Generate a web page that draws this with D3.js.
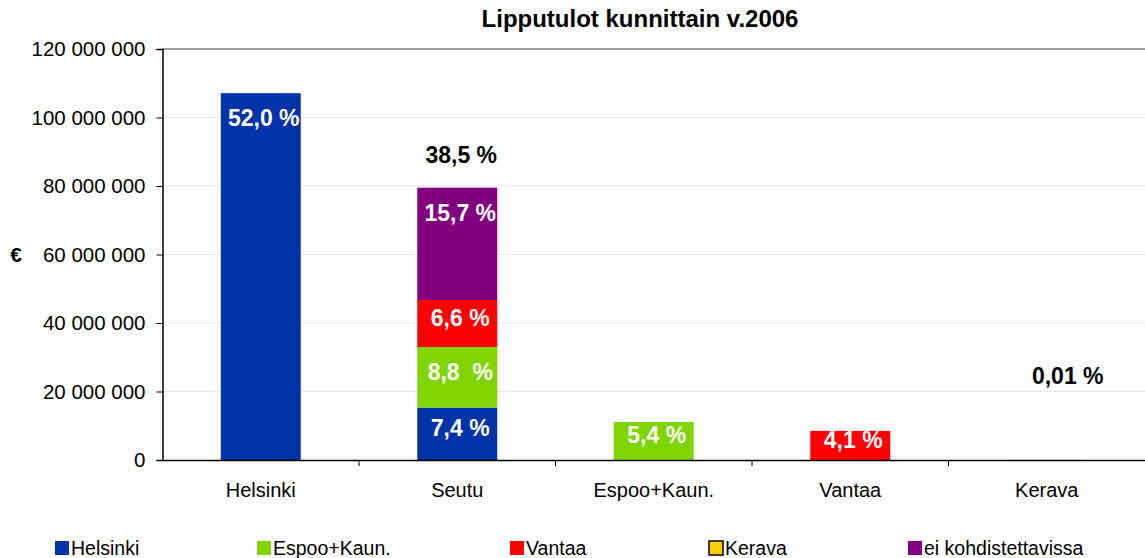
<!DOCTYPE html>
<html lang="fi">
<head>
  <meta charset="UTF-8">
  <title>Lipputulot kunnittain v.2006</title>
  <script src="https://d3js.org/d3.v7.min.js"></script>
  <style>
    body { margin: 0; background: #fff; }
    svg text { font-family: "Liberation Sans", Arial, sans-serif; }
  </style>
</head>
<body>
  <div id="chart"></div>
  <script>
    // luokat ja sarjat (euroa)
    const categories = ["Helsinki", "Seutu", "Espoo+Kaun.", "Vantaa", "Kerava"];
    const seriesNames = ["Helsinki", "Espoo+Kaun.", "Vantaa", "Kerava", "ei kohdistettavissa"];
    const helsinki = [107100000, 15300000, 0, 0, 0];
    const espoo    = [0, 17700000, 11100000, 0, 0];
    const vantaa   = [0, 13700000, 0, 8500000, 0];
    const kerava   = [0, 0, 0, 0, 20000];
    const eiKohd   = [0, 32800000, 0, 0, 0];
    // prosenttiosuudet segmenteittäin
    const helsinkiLabels = ["52,0 %", "7,4 %", "", "", ""];
    const espooLabels    = ["", "8,8  %", "5,4 %", "", ""];
    const vantaaLabels   = ["", "6,6 %", "", "4,1 %", ""];
    const keravaLabels   = ["", "", "", "", ""];
    const eiLabels       = ["", "15,7 %", "", "", ""];
    const totalLabels    = ["", "38,5 %", "", "", "0,01 %"];
    const yTicks = [0, 20000000, 40000000, 60000000, 80000000, 100000000, 120000000];

    const colors = ["#0033a8", "#80d400", "#ff0000", "#ffcc00", "#800080"];
    const seriesValues = [helsinki, espoo, vantaa, kerava, eiKohd];
    const seriesLabels = [helsinkiLabels, espooLabels, vantaaLabels, keravaLabels, eiLabels];

    const width = 1145, height = 558;
    const margin = {top: 49, right: 0, bottom: 98, left: 162.5};

    const svg = d3.select("#chart").append("svg")
      .attr("width", width).attr("height", height);

    const x = d3.scaleBand()
      .domain(categories)
      .range([margin.left, width - margin.right])
      .paddingInner(0.593)
      .paddingOuter(0.2965);

    const y = d3.scaleLinear()
      .domain([0, 120000000])
      .range([height - margin.bottom, margin.top]);

    const fmt = d3.formatLocale({decimal: ",", thousands: " ", grouping: [3], currency: ["", " €"]}).format(",");

    // gridlines
    svg.append("g")
      .selectAll("line")
      .data(yTicks.slice(1, -1))
      .join("line")
      .attr("x1", margin.left).attr("x2", width)
      .attr("y1", d => y(d)).attr("y2", d => y(d))
      .attr("stroke", "#e6e6e6");

    // top border
    svg.append("line")
      .attr("x1", margin.left).attr("x2", width)
      .attr("y1", y(120000000)).attr("y2", y(120000000))
      .attr("stroke", "#808080").attr("stroke-width", 1.5);

    // stacked data
    const rows = categories.map((c, i) => {
      const r = {cat: c};
      seriesNames.forEach((s, j) => r[s] = seriesValues[j][i]);
      return r;
    });
    const stacked = d3.stack().keys(seriesNames)(rows);

    stacked.forEach((layer, j) => {
      const g = svg.append("g");
      g.selectAll("rect")
        .data(layer)
        .join("rect")
        .attr("x", d => x(d.data.cat))
        .attr("width", x.bandwidth())
        .attr("y", d => y(d[1]))
        .attr("height", d => y(d[0]) - y(d[1]))
        .attr("fill", colors[j]);

      g.selectAll("text")
        .data(layer.map((d, i) => ({d, label: seriesLabels[j][i]})).filter(e => e.label))
        .join("text")
        .attr("x", e => x(e.d.data.cat) + x.bandwidth() / 2 + 3)
        .attr("y", e => {
          const h = y(e.d[0]) - y(e.d[1]);
          return y(e.d[1]) + Math.min(25, h / 2 - 6);
        })
        .attr("dy", "0.36em")
        .attr("text-anchor", "middle")
        .attr("fill", "#fff")
        .attr("font-weight", "bold")
        .attr("font-size", 23)
        .style("white-space", "pre")
        .text(e => e.label);
    });

    // totals above bars
    const totals = rows.map(r => d3.sum(seriesNames, s => r[s]));
    svg.append("g")
      .selectAll("text")
      .data(categories.map((c, i) => ({c, t: totals[i], label: totalLabels[i]})).filter(e => e.label))
      .join("text")
      .attr("x", e => x(e.c) + x.bandwidth() / 2 + (e.t < 1000000 ? 21 : 4))
      .attr("y", e => Math.min(y(e.t) - 25, y(20000000) - 8))
      .attr("text-anchor", "middle")
      .attr("fill", "#000")
      .attr("font-weight", "bold")
      .attr("font-size", 23)
      .text(e => e.label);

    // y axis
    const yAxis = svg.append("g")
      .attr("transform", `translate(${margin.left},0)`)
      .call(d3.axisLeft(y).tickValues(yTicks).tickFormat(fmt).tickSize(6).tickPadding(11));
    yAxis.select(".domain").attr("stroke", "#000").attr("stroke-width", 1.5);
    yAxis.selectAll(".tick line").attr("stroke", "#000");
    yAxis.selectAll("text").attr("font-size", 20.5).attr("fill", "#000")
      .attr("font-family", "Liberation Sans, Arial, sans-serif");

    // x axis
    const xAxis = svg.append("g")
      .attr("transform", `translate(0,${y(0)})`)
      .call(d3.axisBottom(x).tickSize(0).tickPadding(23));
    xAxis.select(".domain").attr("stroke", "#000").attr("stroke-width", 1.5);
    xAxis.selectAll("text").attr("font-size", 20).attr("fill", "#000")
      .attr("font-family", "Liberation Sans, Arial, sans-serif");
    // category boundary ticks
    xAxis.selectAll(".bound")
      .data(categories.slice(1))
      .join("line")
      .attr("x1", d => x(d) - x.step() * x.paddingInner() / 2)
      .attr("x2", d => x(d) - x.step() * x.paddingInner() / 2)
      .attr("y1", 0).attr("y2", 6)
      .attr("stroke", "#000");

    // € axis title
    svg.append("text")
      .attr("x", 16).attr("y", y(60000000))
      .attr("dy", "0.36em")
      .attr("text-anchor", "middle")
      .attr("font-weight", "bold")
      .attr("font-size", 21)
      .text("€");

    // title
    svg.append("text")
      .attr("x", 640).attr("y", 27)
      .attr("text-anchor", "middle")
      .attr("font-weight", "bold")
      .attr("font-size", 24)
      .text("Lipputulot kunnittain v.2006");

    // legend
    const legendX = [55, 257, 510, 709, 908];
    const legend = svg.append("g")
      .selectAll("g")
      .data(seriesNames)
      .join("g")
      .attr("transform", (d, i) => `translate(${legendX[i]},541)`);
    legend.append("rect")
      .attr("width", 14).attr("height", 14)
      .attr("fill", (d, i) => colors[i])
      .attr("stroke", (d, i) => i === 3 ? "#000" : "none")
      .attr("stroke-width", 1.5);
    legend.append("text")
      .attr("x", 16).attr("y", 14)
      .attr("font-size", 19.5)
      .text(d => d);
  </script>
</body>
</html>
